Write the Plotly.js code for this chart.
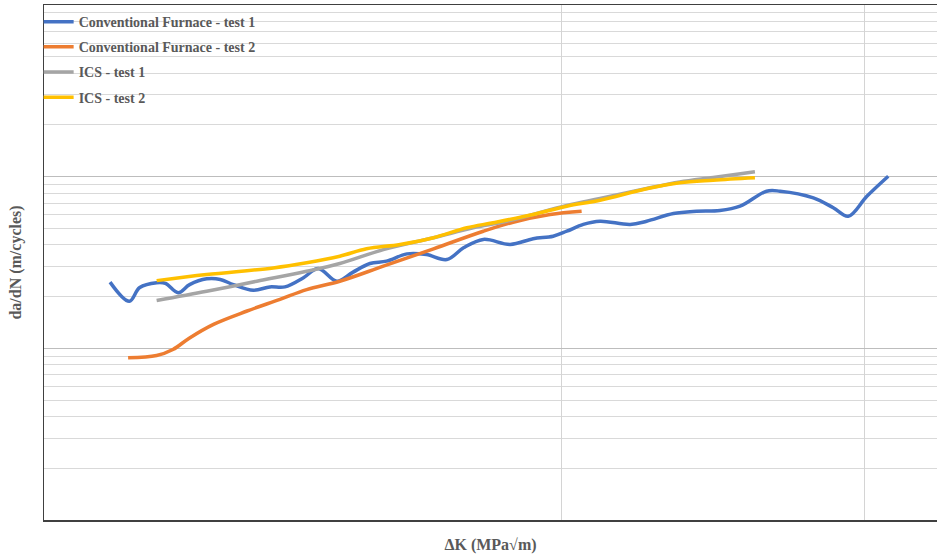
<!DOCTYPE html>
<html>
<head>
<meta charset="utf-8">
<script src="https://cdn.plot.ly/plotly-3.0.1.min.js"></script>
<style>html,body{margin:0;padding:0;background:#fff;}#chart{width:937px;height:558px;}</style>
</head>
<body>
<div id="chart"></div>
<script>
// ΔK (MPa√m) and da/dN (m/cycle)
const seriesNames = ["Conventional Furnace - test 1", "Conventional Furnace - test 2", "ICS - test 1", "ICS - test 2"];

const cf1_dK = [3.55, 3.71, 3.80, 3.95, 4.03, 4.15, 4.26, 4.43, 4.57, 4.71, 4.93, 5.12, 5.30, 5.53, 5.72, 5.97, 6.19, 6.44, 6.69, 7.01, 7.33, 7.68, 7.98, 8.35, 8.88, 9.36, 9.80, 10.11, 10.50, 10.91, 11.69, 12.14, 12.91, 13.61, 14.36, 15.04, 15.98, 16.48, 17.79, 18.62, 19.27, 20.11, 21.12];
const cf1_dadN = [2.43e-8, 1.88e-8, 2.26e-8, 2.41e-8, 2.39e-8, 2.11e-8, 2.35e-8, 2.54e-8, 2.52e-8, 2.35e-8, 2.18e-8, 2.28e-8, 2.28e-8, 2.58e-8, 2.92e-8, 2.46e-8, 2.77e-8, 3.12e-8, 3.22e-8, 3.55e-8, 3.52e-8, 3.29e-8, 3.85e-8, 4.31e-8, 4.03e-8, 4.35e-8, 4.50e-8, 4.81e-8, 5.27e-8, 5.50e-8, 5.27e-8, 5.50e-8, 6.10e-8, 6.29e-8, 6.35e-8, 6.73e-8, 8.23e-8, 8.23e-8, 7.53e-8, 6.59e-8, 5.88e-8, 7.69e-8, 1.006e-7];

const cf2_dK = [3.70, 3.95, 4.10, 4.26, 4.50, 4.86, 5.24, 5.57, 6.01, 6.64, 7.45, 8.35, 8.94, 9.73, 10.46];
const cf2_dadN = [8.81e-9, 9.08e-9, 9.84e-9, 1.15e-8, 1.38e-8, 1.65e-8, 1.93e-8, 2.20e-8, 2.46e-8, 3.01e-8, 3.80e-8, 4.81e-8, 5.43e-8, 6.02e-8, 6.29e-8];

const ics1_dK = [3.95, 4.43, 4.97, 5.57, 6.01, 6.64, 7.45, 8.16, 8.81, 10.11, 10.91, 12.14, 13.10, 14.14, 15.56];
const ics1_dadN = [1.90e-8, 2.15e-8, 2.46e-8, 2.81e-8, 3.12e-8, 3.76e-8, 4.41e-8, 5.04e-8, 5.50e-8, 6.79e-8, 7.46e-8, 8.53e-8, 9.31e-8, 9.89e-8, 1.068e-7];

const ics2_dK = [3.95, 4.43, 5.16, 5.57, 6.01, 6.39, 6.90, 7.45, 8.04, 8.54, 9.36, 10.11, 10.91, 12.14, 13.10, 14.14, 15.56];
const ics2_dadN = [2.48e-8, 2.69e-8, 2.94e-8, 3.15e-8, 3.44e-8, 3.80e-8, 4.03e-8, 4.41e-8, 5.04e-8, 5.39e-8, 6.02e-8, 6.73e-8, 7.29e-8, 8.50e-8, 9.21e-8, 9.54e-8, 9.85e-8];

const xGrid = [10, 20];
const yMajor = [1e-9, 1e-8, 1e-7, 1e-6];
const yMinorMult = [2, 3, 4, 5, 6, 7, 8, 9];

const colors = ["#4472C4", "#ED7D31", "#A5A5A5", "#FFC000"];
const xs = [cf1_dK, cf2_dK, ics1_dK, ics2_dK];
const ys = [cf1_dadN, cf2_dadN, ics1_dadN, ics2_dadN];

const traces = seriesNames.map((n, i) => ({
  type: "scatter", mode: "lines", name: n, legendgroup: "g" + i,
  x: xs[i], y: ys[i],
  line: {color: colors[i], width: 3.5, shape: "spline", smoothing: 1},
  hoverinfo: "skip"
}));

const yMinor = [];
for (let d = 0; d < yMajor.length - 1; d++) yMinorMult.forEach(m => yMinor.push(m * yMajor[d]));

const font = {family: "Liberation Serif, Times New Roman, serif", color: "#595959", weight: "bold"};

const layout = {
  width: 937, height: 558,
  margin: {l: 44, r: 0, t: 5, b: 38},
  paper_bgcolor: "#ffffff", plot_bgcolor: "#ffffff",
  showlegend: true,
  legend: {x: -0.006, y: 0.998, xanchor: "left", yanchor: "top", bgcolor: "rgba(0,0,0,0)",
           font: Object.assign({size: 14}, font), tracegroupgap: 4, traceorder: "grouped"},
  xaxis: {type: "log", range: [0.4845, 1.3732], tickmode: "array", tickvals: xGrid, showticklabels: false,
          ticks: "", showgrid: true, gridcolor: "#d4d4d4", gridwidth: 1, zeroline: false,
          showline: true, mirror: true, linecolor: "#404040", linewidth: 1.5,
          title: {text: "ΔK (MPa√m)", font: Object.assign({size: 16}, font), standoff: 18}},
  yaxis: {type: "log", range: [-9, -6], tickmode: "array", tickvals: yMajor, showticklabels: false,
          ticks: "", showgrid: true, gridcolor: "#bdbdbd", gridwidth: 1, zeroline: false,
          showline: true, linecolor: "#404040", linewidth: 1.5,
          minor: {tickmode: "array", tickvals: yMinor, showgrid: true, gridcolor: "#d9d9d9", gridwidth: 1, ticks: ""},
          title: {text: "da/dN (m/cycles)", font: Object.assign({size: 16}, font), standoff: 17}}
};

Plotly.newPlot("chart", traces, layout, {displayModeBar: false, staticPlot: true});
</script>
</body>
</html>
